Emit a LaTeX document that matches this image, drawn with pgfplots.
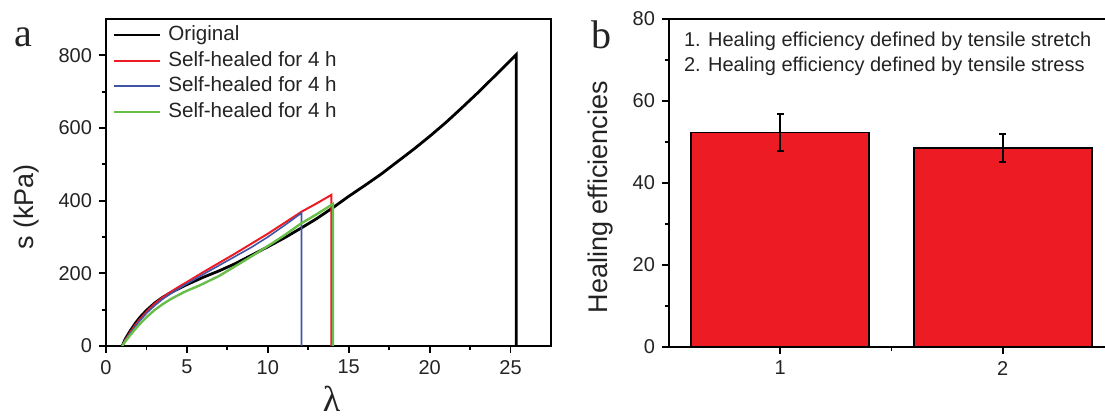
\documentclass[border=0pt]{standalone}
\usepackage{fontspec}
\setmainfont{Liberation Sans}
\newfontfamily\seriffont{Liberation Serif}
\usepackage{pgfplots}
\pgfplotsset{compat=1.18}
\definecolor{cred}{RGB}{237,28,36}
\definecolor{cblue}{RGB}{64,84,168}
\definecolor{cgreen}{RGB}{104,190,72}
\definecolor{txt}{RGB}{35,35,35}

\pgfplotsset{
  panel/.style={
    width=222.5pt, height=163.5pt, scale only axis,
    axis line style={line width=1pt},
    tick align=outside, tick pos=left,
    major tick length=3.5pt, minor tick length=2pt,
    every tick/.style={black, line width=0.9pt},
    tick label style={font=\fontsize{10}{12}\selectfont, text=txt},
    /pgf/number format/assume math mode=true,
    label style={font=\fontsize{13.5}{16}\selectfont, text=txt},
  }
}

\begin{document}
\begin{tikzpicture}
\begin{axis}[panel, name=A, at={(0,0)}, anchor=south west,
  xmin=0, xmax=27.5, ymin=0, ymax=900,
  xtick={0,5,...,25}, minor xtick={2.5,7.5,12.5,17.5,22.5},
  ytick={0,200,...,800}, minor ytick={100,300,500,700},
  xlabel={\seriffont\fontsize{18}{20}\selectfont λ},
  xlabel style={at={(axis description cs:0.507,-0.161)}, anchor=center},
  ylabel={s (kPa)},
  ylabel style={at={(axis description cs:-0.178,0.425)}, anchor=center},
  legend style={draw=none, fill=none, at={(axis description cs:0.0157,0.985)},
    anchor=north west, font=\fontsize{10.3}{12}\selectfont, text=txt,
    row sep=2.35pt, inner sep=0pt,
    nodes={inner sep=0pt, text height=8pt, text depth=2.5pt}},
  legend cell align=left,
  legend image code/.code={\draw[#1, line width=1pt] (0pt,0pt) -- (23pt,0pt);},
  /tikz/every odd column/.append style={column sep=3.5pt},
]
\addplot[black, line width=1.4pt] coordinates {
(1.0,0) (1.2,20) (1.5,42) (1.8,62) (2.1,79) (2.5,98) (3.0,118) (3.5,134)
(4.0,147) (4.5,158) (5.0,169) (6.0,189) (7.0,207) (8.0,227) (9.0,250) (10.0,273)
(11.0,297) (12.0,323) (13.0,350) (14.0,380) (15.0,412) (16.0,442) (17.0,473)
(18.0,507) (19.0,541) (20.0,577) (21.0,615) (22.0,656) (23.0,698) (24.0,742)
(25.35,802) (25.35,0)};
\addplot[cred, line width=1pt] coordinates {
(1.0,0) (1.2,17) (1.5,38) (1.8,57) (2.1,74) (2.5,94) (3.0,116) (3.5,134)
(4.0,149) (4.5,163) (5.0,176) (6.0,203) (7.0,229) (8.0,255) (9.0,282) (10.0,309)
(11.0,338) (12.1,370) (13.0,392) (13.93,416) (13.93,0)};
\addplot[cblue, line width=0.8pt] coordinates {
(1.0,0) (1.2,16) (1.5,35) (1.8,53) (2.1,70) (2.5,90) (3.0,111) (3.5,129)
(4.0,144) (4.5,158) (5.0,171) (6.0,197) (7.0,222) (8.0,247) (9.0,272) (10.0,300)
(11.0,331) (12.08,366) (12.08,0)};
\addplot[cgreen, line width=1.2pt] coordinates {
(1.0,0) (1.2,13) (1.5,30) (1.8,46) (2.1,61) (2.5,79) (3.0,99) (3.5,115)
(4.0,129) (4.5,141) (5.0,152) (5.8,167) (7.0,193) (8.0,220) (9.0,247) (10.0,275)
(11.0,304) (12.08,338) (13.0,362) (14.03,391) (14.03,0)};
\legend{Original, Self-healed for 4 h, Self-healed for 4 h, Self-healed for 4 h}
\end{axis}

\begin{axis}[panel, name=B, at={(281.5pt,-0.5pt)}, anchor=south west, height=164pt,
  xmin=0.5, xmax=2.5, ymin=0, ymax=80,
  xtick={1,2}, minor xtick={1.5},
  ytick={0,20,...,80}, minor ytick={10,30,50,70},
  ylabel={Healing efficiencies},
  ylabel style={at={(axis description cs:-0.155,0.457)}, anchor=center},
  ybar, bar width=0.8,
]
\addplot[fill=cred, draw=black, line width=0.8pt,
  error bars/.cd, y dir=both, y explicit,
  error bar style={line width=1pt, black},
  error mark options={rotate=90, mark size=1.7pt, line width=1pt, black}]
  coordinates {(1,52.3) +- (0,4.5) (2,48.5) +- (0,3.4)};
\end{axis}

\node[anchor=base west, font=\fontsize{10}{12}\selectfont, text=txt]
  at ([shift={(4pt,150pt)}]B.south west) {1. Healing efficiency defined by tensile stretch};
\node[anchor=base west, font=\fontsize{10}{12}\selectfont, text=txt]
  at ([shift={(4pt,137.5pt)}]B.south west) {2. Healing efficiency defined by tensile stress};

\node[anchor=base, font=\seriffont\fontsize{20}{22}\selectfont, text=txt] at (-41.5pt,149.5pt) {a};
\node[anchor=base, font=\seriffont\fontsize{20}{22}\selectfont, text=txt] at (247.5pt,148.5pt) {b};

\pgfresetboundingbox
\path[use as bounding box] (-53pt,-35.5pt) rectangle (499.5pt,173pt);
\end{tikzpicture}
\end{document}
